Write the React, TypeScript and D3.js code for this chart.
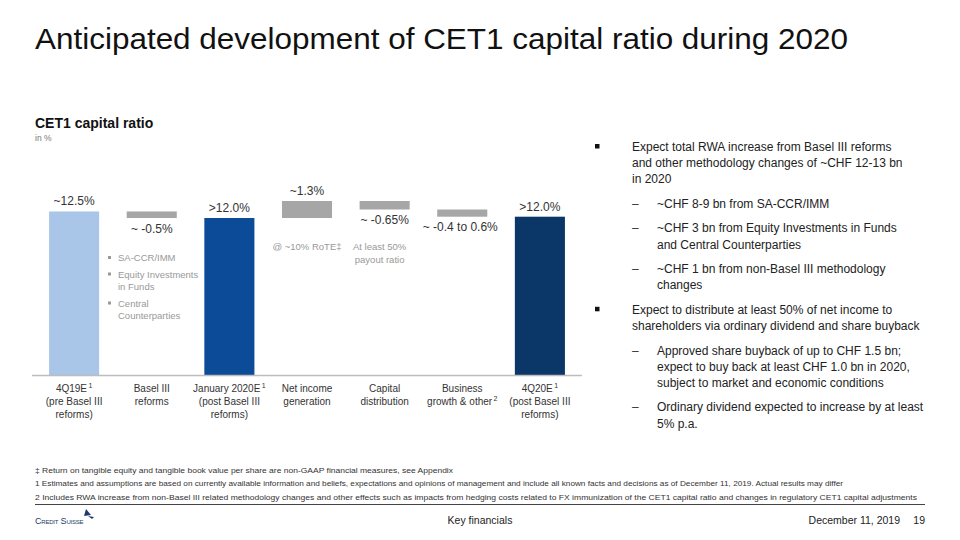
import React from 'react';
import * as d3 from 'd3';

// Waterfall data (in % CET1 ratio)
const categories = ['4Q19E', 'Basel III', 'January 2020E', 'Net income', 'Capital', 'Business', '4Q20E'];
const categoryLines: string[][] = [
  ['4Q19E|1', '(pre Basel III', 'reforms)'],
  ['Basel III', 'reforms'],
  ['January 2020E|1', '(post Basel III', 'reforms)'],
  ['Net income', 'generation'],
  ['Capital', 'distribution'],
  ['Business', 'growth & other|2'],
  ['4Q20E|1', '(post Basel III', 'reforms)'],
];
const kinds = ['total', 'delta', 'total', 'delta', 'delta', 'delta', 'total'];
const values = [12.5, -0.5, 12.0, 1.3, -0.65, -0.55, 12.1];
const valueLabels = ['~12.5%', '~ -0.5%', '>12.0%', '~1.3%', '~ -0.65%', '~ -0.4 to 0.6%', '>12.0%'];
const totalColors = ['#a9c6e9', '', '#0c4b98', '', '', '', '#0a3768'];

const bulletNotes = [['SA-CCR/IMM'], ['Equity Investments', 'in Funds'], ['Central', 'Counterparties']];
const netIncomeNote = ['@ ~10% RoTE‡'];
const capitalNote = ['At least 50%', 'payout ratio'];

const rightText: { level: number; lines: string[] }[] = [
  { level: 0, lines: ['Expect total RWA increase from Basel III reforms', 'and other methodology changes of ~CHF 12-13 bn', 'in 2020'] },
  { level: 1, lines: ['~CHF 8-9 bn from SA-CCR/IMM'] },
  { level: 1, lines: ['~CHF 3 bn from Equity Investments in Funds', 'and Central Counterparties'] },
  { level: 1, lines: ['~CHF 1 bn from non-Basel III methodology', 'changes'] },
  { level: 0, lines: ['Expect to distribute at least 50% of net income to', 'shareholders via ordinary dividend and share buyback'] },
  { level: 1, lines: ['Approved share buyback of up to CHF 1.5 bn;', 'expect to buy back at least CHF 1.0 bn in 2020,', 'subject to market and economic conditions'] },
  { level: 1, lines: ['Ordinary dividend expected to increase by at least', '5% p.a.'] },
];

const footnotes = [
  '‡ Return on tangible equity and tangible book value per share are non-GAAP financial measures, see Appendix',
  '1 Estimates and assumptions are based on currently available information and beliefs, expectations and opinions of management and include all known facts and decisions as of December 11, 2019. Actual results may differ',
  '2 Includes RWA increase from non-Basel III related methodology changes and other effects such as impacts from hedging costs related to FX immunization of the CET1 capital ratio and changes in regulatory CET1 capital adjustments',
];
const footnoteWidths = [418, 808, 882];

const FONT = '"Liberation Sans", Arial, Helvetica, sans-serif';

const Label: React.FC<{ text: string; x: number; y: number; size: number }> = ({ text, x, y, size }) => {
  const [main, sup] = text.split('|');
  return (
    <text x={x} y={y} textAnchor="middle" fontSize={size} fill="#333">
      {main}
      {sup && (
        <tspan fontSize={size * 0.7} dy={-size * 0.4}>
          {'\u2009' + sup}
        </tspan>
      )}
    </text>
  );
};

export default function App() {
  const x = d3.scaleBand<string>().domain(categories).range([32, 582]).paddingInner(0.355).paddingOuter(0.22);
  const y = d3.scaleLinear().domain([0, 13.3]).range([375, 201]);

  // compute waterfall segments
  let running = 0;
  const bars = values.map((v, i) => {
    let y0: number, y1: number;
    if (kinds[i] === 'total') {
      y0 = 0;
      y1 = v;
      running = v;
    } else {
      y0 = running;
      y1 = running + v;
      running = y1;
    }
    return { cat: categories[i], lo: Math.min(y0, y1), hi: Math.max(y0, y1), v, kind: kinds[i], i };
  });

  // right text layout
  let ty = 151;
  const rightRows: React.ReactNode[] = [];
  rightText.forEach((item, k) => {
    const tx = item.level === 0 ? 632 : 657;
    if (item.level === 0) {
      rightRows.push(<rect key={'b' + k} x={595} y={ty - 7} width={4.5} height={4.5} fill="#111" />);
    } else {
      rightRows.push(
        <text key={'d' + k} x={632} y={ty} fontSize={12} fill="#333">
          –
        </text>
      );
    }
    item.lines.forEach((ln, j) => {
      rightRows.push(
        <text key={`t${k}-${j}`} x={tx} y={ty + j * 16.2} fontSize={12} fill="#222">
          {ln}
        </text>
      );
    });
    ty += (item.lines.length - 1) * 16.2 + 24.5;
  });

  let ny = 261;
  const noteRows: React.ReactNode[] = [];
  bulletNotes.forEach((lines, k) => {
    noteRows.push(<rect key={'nb' + k} x={108} y={ny - 5} width={3} height={3} fill="#999" />);
    lines.forEach((ln, j) => {
      noteRows.push(
        <text key={`n${k}-${j}`} x={118} y={ny + j * 12.5} fontSize={9.5} fill="#999">
          {ln}
        </text>
      );
    });
    ny += (lines.length - 1) * 12.5 + 16.5;
  });

  const cx = (c: string) => (x(c) as number) + x.bandwidth() / 2;

  return (
    <svg
      width={960}
      height={540}
      style={{ position: 'absolute', left: 0, top: 0, background: '#fff' }}
      fontFamily={FONT}
    >
      <text x={35} y={49} fontSize={30} fill="#111" textLength={813} lengthAdjust="spacingAndGlyphs">
        Anticipated development of CET1 capital ratio during 2020
      </text>

      <text x={35} y={128} fontSize={14} fontWeight="bold" fill="#111">
        CET1 capital ratio
      </text>
      <text x={35} y={141} fontSize={8.5} fill="#777">
        in %
      </text>

      {/* bars */}
      {bars.map((b) => (
        <rect
          key={b.cat}
          x={x(b.cat)}
          y={y(b.hi)}
          width={x.bandwidth()}
          height={y(b.lo) - y(b.hi)}
          fill={b.kind === 'total' ? totalColors[b.i] : '#a6a6a6'}
        />
      ))}

      {/* baseline */}
      <line x1={32} x2={582} y1={y(0) + 0.5} y2={y(0) + 0.5} stroke="#bdbdbd" strokeWidth={1.5} />

      {/* value labels */}
      {bars.map((b) => {
        const below = b.kind === 'delta' && b.v < 0;
        const extraX = b.i === 5 ? -2 : 0;
        return (
          <text
            key={'v' + b.cat}
            x={cx(b.cat) + extraX}
            y={below ? y(b.lo) + 14.5 : y(b.hi) - 6}
            textAnchor="middle"
            fontSize={12}
            fill="#333"
          >
            {valueLabels[b.i]}
          </text>
        );
      })}

      {/* category labels */}
      {categoryLines.map((lines, i) =>
        lines.map((ln, j) => (
          <Label key={`c${i}-${j}`} text={ln} x={cx(categories[i])} y={392 + j * 13} size={10} />
        ))
      )}

      {/* annotations */}
      {noteRows}
      {netIncomeNote.map((ln, j) => (
        <text key={'ni' + j} x={cx(categories[3])} y={250 + j * 12.5} textAnchor="middle" fontSize={9.5} fill="#999">
          {ln}
        </text>
      ))}
      {capitalNote.map((ln, j) => (
        <text key={'cd' + j} x={cx(categories[4]) - 5} y={250 + j * 12.5} textAnchor="middle" fontSize={9.5} fill="#999">
          {ln}
        </text>
      ))}

      {/* right side commentary */}
      {rightRows}

      {/* footnotes */}
      {footnotes.map((f, i) => (
        <text
          key={'f' + i}
          x={35}
          y={473 + i * 13.3}
          fontSize={8}
          fill="#333"
          textLength={footnoteWidths[i]}
          lengthAdjust="spacingAndGlyphs"
        >
          {f}
        </text>
      ))}
      <line x1={35} x2={925} y1={504.5} y2={504.5} stroke="#444" strokeWidth={1.2} />

      {/* footer */}
      <text x={35} y={524} fontSize={9} fill="#1d3b6a" style={{ fontVariant: 'small-caps' }} letterSpacing={-0.2}>
        Credit Suisse
      </text>
      <path d="M86,509 L91,515 L84,516 Z" fill="#1d3b6a" />
      <path d="M88,516 L94,517 L92,519 Z" fill="#1d3b6a" />
      <text x={480} y={524} textAnchor="middle" fontSize={10.5} fill="#222">
        Key financials
      </text>
      <text x={900} y={524} textAnchor="end" fontSize={10.5} fill="#222">
        December 11, 2019
      </text>
      <text x={925} y={524} textAnchor="end" fontSize={10.5} fill="#222">
        19
      </text>
    </svg>
  );
}
